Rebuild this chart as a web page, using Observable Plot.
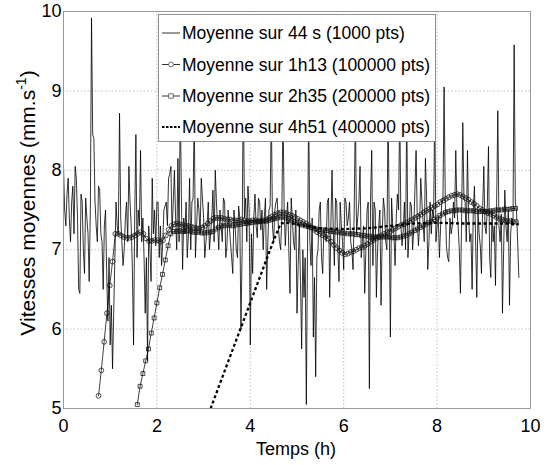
<!DOCTYPE html>
<html>
<head>
<meta charset="utf-8">
<script src="https://cdn.jsdelivr.net/npm/d3@7"></script>
<script src="https://cdn.jsdelivr.net/npm/@observablehq/plot@0.6"></script>
<style>
  html, body { margin: 0; padding: 0; background: white; }
  svg { display: block; }
</style>
</head>
<body>
<div id="chart"></div>
<script>
// ---------- data ----------
const xTicks = [0, 2, 4, 6, 8, 10];
const yTicks = [5, 6, 7, 8, 9, 10];
const xLabel = "Temps (h)";
const yLabelMain = "Vitesses moyennes (mm.s";
const yLabelSup = "-1";
const legendLabels = [
  "Moyenne sur 44 s (1000 pts)",
  "Moyenne sur 1h13 (100000 pts)",
  "Moyenne sur 2h35 (200000 pts)",
  "Moyenne sur 4h51 (400000 pts)"
];

// 44 s average, values read every 0.05 h from t = 0
const rawStart = 0, rawStep = 0.05;
const rawV = [
  8.05,7.3,7.9,7.1,7.8,8.05,7.4,6.45,7.6,6.7,
  7.4,6.6,9.92,8.4,7.3,7.8,7.2,6.5,7.5,6.1,
  5.8,5.5,6.9,7.3,8.72,7.1,7.0,7.6,8.05,7.3,
  5.8,8.45,7.5,8.25,7.4,6.2,5.6,7.0,7.9,7.5,
  7.6,6.9,6.8,7.5,7.6,7.9,8.05,7.6,7.4,8.15,
  8.9,6.75,7.2,6.9,7.9,7.6,8.7,7.3,7.5,7.9,
  7.4,7.1,7.6,7.2,7.75,8.0,7.3,7.5,7.1,7.6,
  7.05,7.3,6.9,7.5,7.0,7.55,6.0,9.2,7.65,7.8,
  5.8,6.7,7.7,7.15,7.6,7.5,7.4,6.5,7.5,8.8,
  7.1,7.6,7.3,7.0,8.8,7.05,7.6,6.45,7.4,7.0,
  6.2,7.3,5.75,6.4,5.05,8.8,6.8,5.9,5.4,7.0,
  7.6,6.7,7.2,7.6,6.4,8.0,6.8,7.6,6.6,7.3,
  6.75,7.6,7.4,7.1,6.75,8.8,7.4,8.05,7.1,6.45,
  7.5,5.25,8.25,7.6,6.4,7.3,6.3,7.65,7.1,8.8,
  5.9,7.3,6.8,7.7,8.8,7.05,7.6,8.8,7.2,7.55,
  7.25,8.25,7.05,7.9,7.35,8.15,6.75,7.6,7.5,8.8,
  7.3,6.9,7.6,9.05,7.05,6.85,7.2,7.6,8.25,7.3,
  6.45,8.6,7.6,8.25,7.1,6.5,7.8,6.4,7.2,6.7,
  8.05,7.2,8.3,6.65,7.1,6.55,8.75,7.1,6.2,7.75,
  7.1,6.3,7.4,9.58,7.5,6.65
];
// 44 s average, values read half-way between the above (t = 0.025 + 0.05 i)
const rawMidStart = 0.025;
const rawMidV = [
  7.5,7.7,7.4,7.6,7.2,7.9,6.5,7.7,7.0,7.65,
  7.2,7.5,8.45,7.6,7.1,7.75,7.1,7.3,6.7,6.9,
  6.3,6.2,7.6,7.2,7.4,6.8,7.4,7.1,7.6,6.75,
  7.4,6.9,7.3,7.1,6.9,6.9,7.3,6.6,7.2,7.05,
  7.6,7.3,7.1,7.55,7.3,7.95,7.2,8.0,7.0,7.1,
  7.65,7.4,7.6,7.2,7.0,7.65,6.9,7.65,7.2,7.65,
  6.9,7.3,7.0,7.4,7.1,7.6,7.0,7.3,7.65,6.9,
  7.5,7.1,6.7,7.3,6.9,7.4,7.0,7.4,7.1,7.5,
  7.2,7.4,7.3,7.65,7.25,7.0,7.65,7.1,7.55,7.3,
  7.5,7.65,7.1,7.4,7.5,7.4,7.0,7.65,7.1,7.5,
  6.8,6.6,7.0,6.9,7.0,7.1,7.4,6.65,6.9,7.5,
  6.9,7.25,7.1,7.65,7.3,7.3,7.65,7.0,7.6,7.1,
  7.65,7.3,7.6,7.0,7.5,7.2,7.6,6.9,7.3,7.0,
  7.6,7.65,6.8,7.5,7.0,7.5,7.2,7.5,7.0,7.4,
  7.65,7.2,7.4,7.5,7.3,7.25,7.0,6.9,7.6,7.0,
  7.75,7.4,7.3,7.6,7.1,7.65,7.1,7.2,7.4,7.1,
  7.4,7.3,7.65,7.6,6.9,7.4,7.3,7.4,7.5,7.0,
  7.4,7.65,7.1,7.4,7.2,7.5,7.1,7.5,7.05,7.5,
  7.3,7.55,6.9,7.5,7.3,7.6,7.3,7.45,7.0,7.3,
  7.5,7.2,7.3,7.6,7.1
];

// 1h13 average (circles), read every 0.06 h from t = 0.75
const circStart = 0.75, circStep = 0.06;
const circV = [
  5.16,5.48,5.84,6.2,6.55,6.85,7.2,7.2,7.18,7.16,
  7.15,7.15,7.16,7.18,7.2,7.22,7.2,7.14,7.11,7.11,
  7.12,7.12,7.1,7.12,7.18,7.25,7.3,7.32,7.33,7.32,
  7.31,7.3,7.3,7.29,7.28,7.27,7.27,7.28,7.3,7.33,
  7.36,7.39,7.4,7.4,7.4,7.39,7.38,7.38,7.37,7.37,
  7.37,7.38,7.37,7.36,7.36,7.37,7.37,7.36,7.36,7.37,
  7.38,7.4,7.42,7.44,7.46,7.47,7.47,7.46,7.44,7.43,
  7.41,7.39,7.37,7.35,7.33,7.31,7.28,7.25,7.22,7.2,
  7.18,7.16,7.14,7.1,7.06,7.02,6.99,6.96,6.94,6.95,
  6.97,6.98,7.0,7.02,7.03,7.05,7.07,7.1,7.12,7.14,
  7.16,7.18,7.2,7.22,7.23,7.25,7.27,7.29,7.31,7.32,
  7.34,7.36,7.38,7.4,7.42,7.44,7.47,7.49,7.51,7.53,
  7.55,7.57,7.6,7.62,7.64,7.66,7.68,7.69,7.7,7.69,
  7.67,7.65,7.63,7.6,7.58,7.55,7.52,7.5,7.48,7.46,
  7.45,7.43,7.41,7.39,7.38,7.37,7.36,7.36,7.35,7.35
];

// 2h35 average (squares), read every 0.06 h from t = 1.58
const sqStart = 1.58, sqStep = 0.06;
const sqV = [
  5.05,5.28,5.44,5.6,5.75,5.95,6.14,6.33,6.52,6.69,
  6.87,7.05,7.2,7.23,7.23,7.24,7.23,7.23,7.24,7.23,
  7.22,7.22,7.22,7.21,7.21,7.22,7.22,7.23,7.26,7.28,
  7.3,7.3,7.31,7.31,7.3,7.31,7.32,7.32,7.33,7.33,
  7.34,7.34,7.35,7.35,7.36,7.36,7.36,7.37,7.38,7.39,
  7.4,7.41,7.41,7.4,7.39,7.37,7.35,7.34,7.32,7.31,
  7.3,7.29,7.28,7.27,7.26,7.25,7.25,7.24,7.24,7.23,
  7.23,7.22,7.22,7.21,7.21,7.2,7.2,7.2,7.19,7.19,
  7.18,7.18,7.17,7.17,7.16,7.16,7.16,7.16,7.16,7.16,
  7.16,7.15,7.15,7.15,7.16,7.17,7.18,7.2,7.22,7.24,
  7.26,7.28,7.3,7.32,7.34,7.36,7.38,7.4,7.43,7.45,
  7.47,7.48,7.49,7.49,7.5,7.5,7.5,7.49,7.49,7.49,
  7.49,7.48,7.48,7.48,7.48,7.48,7.49,7.49,7.5,7.5,
  7.5,7.51,7.51,7.51,7.52,7.52
];

// 4h51 average (thick dashed)
const dashT = [3.15,3.8,4.47,4.65,4.8,5.0,5.5,6.0,6.5,7.0,7.5,8.0,8.5,9.0,9.5,9.75];
const dashV = [5.0,6.02,7.07,7.33,7.34,7.32,7.27,7.26,7.27,7.3,7.33,7.34,7.33,7.33,7.33,7.32];

// ---------- tables ----------
const raw = [];
rawV.forEach((v, i) => {
  raw.push({t: rawStart + i * rawStep, v});
  if (i < rawMidV.length) raw.push({t: rawMidStart + i * rawStep, v: rawMidV[i]});
});
const circ = circV.map((v, i) => ({t: circStart + i * circStep, v}));
const sq = sqV.map((v, i) => ({t: sqStart + i * sqStep, v}));
const dash = dashV.map((v, i) => ({t: dashT[i], v}));

const FONT = "'Liberation Sans', Arial, Helvetica, sans-serif";

const chart = Plot.plot({
  width: 546,
  height: 465,
  marginLeft: 63,
  marginRight: 16,
  marginTop: 11,
  marginBottom: 57,
  style: {fontFamily: FONT, fontSize: "18px", background: "white", color: "black", overflow: "visible"},
  x: {domain: [0, 10], label: null},
  y: {domain: [5, 10], label: null},
  marks: [
    Plot.gridX(xTicks.slice(1, -1), {stroke: "#b0b0b0", strokeOpacity: 1, strokeWidth: 0.8, strokeDasharray: "1.5,2"}),
    Plot.gridY(yTicks.slice(1, -1), {stroke: "#b0b0b0", strokeOpacity: 1, strokeWidth: 0.8, strokeDasharray: "1.5,2"}),
    Plot.line(raw, {x: "t", y: "v", stroke: "#000", strokeWidth: 0.8, clip: true}),
    Plot.line(circ, {x: "t", y: "v", stroke: "#111", strokeWidth: 0.8, clip: true}),
    Plot.dot(circ, {x: "t", y: "v", symbol: "circle", r: 2.4, fill: "none", stroke: "#111", strokeWidth: 0.75, clip: true}),
    Plot.line(sq, {x: "t", y: "v", stroke: "#111", strokeWidth: 0.8, clip: true}),
    Plot.dot(sq, {x: "t", y: "v", symbol: "square", r: 2.2, fill: "none", stroke: "#111", strokeWidth: 0.75, clip: true}),
    Plot.line(dash, {x: "t", y: "v", stroke: "#000", strokeWidth: 2.3, strokeDasharray: "3,2.5", strokeLinecap: "butt", strokeLinejoin: "miter", clip: true}),
    Plot.frame({stroke: "#9a9a9a", strokeWidth: 1}),
    Plot.axisX({ticks: xTicks, tickFormat: d => String(d), tickSize: 0, tickPadding: 11, fontSize: 18, label: null}),
    Plot.axisY({ticks: yTicks, tickFormat: d => String(d), tickSize: 0, tickPadding: 2, fontSize: 18, label: null})
  ]
});

document.getElementById("chart").appendChild(chart);

// ---------- axis titles and legend (layout in pixels) ----------
const svg = d3.select(chart);

svg.append("text")
  .attr("x", 296).attr("y", 455)
  .attr("text-anchor", "middle")
  .attr("font-family", FONT).attr("font-size", 18).attr("fill", "black")
  .text(xLabel);

const yl = svg.append("text")
  .attr("transform", "translate(35,203) rotate(-90)")
  .attr("text-anchor", "middle")
  .attr("font-family", FONT).attr("font-size", 21).attr("fill", "black");
yl.append("tspan").text(yLabelMain);
yl.append("tspan").attr("font-size", 14).attr("dy", -9).text(yLabelSup);
yl.append("tspan").attr("dy", 9).text(")");

const lg = svg.append("g").attr("font-family", FONT).attr("font-size", 17.5).attr("text-anchor", "start");
lg.append("rect")
  .attr("x", 158.5).attr("y", 14.5).attr("width", 277).attr("height", 127)
  .attr("fill", "white").attr("stroke", "#777").attr("stroke-width", 0.8);

const rowY = [33, 64.5, 96, 127];
legendLabels.forEach((lab, i) => {
  const y = rowY[i];
  const line = lg.append("line")
    .attr("x1", 162).attr("x2", 180).attr("y1", y).attr("y2", y)
    .attr("stroke", "black");
  if (i === 3) line.attr("stroke-width", 2.2).attr("stroke-dasharray", "2.5,1.5");
  else line.attr("stroke-width", 0.8);
  if (i === 1) lg.append("circle").attr("cx", 171).attr("cy", y).attr("r", 2.4)
    .attr("fill", "white").attr("stroke", "#333").attr("stroke-width", 0.7);
  if (i === 2) lg.append("rect").attr("x", 168.8).attr("y", y - 2.2).attr("width", 4.4).attr("height", 4.4)
    .attr("fill", "white").attr("stroke", "#333").attr("stroke-width", 0.7);
  lg.append("text").attr("x", 182).attr("y", y + 6.3).attr("text-anchor", "start").attr("fill", "black").text(lab);
});
</script>
</body>
</html>
